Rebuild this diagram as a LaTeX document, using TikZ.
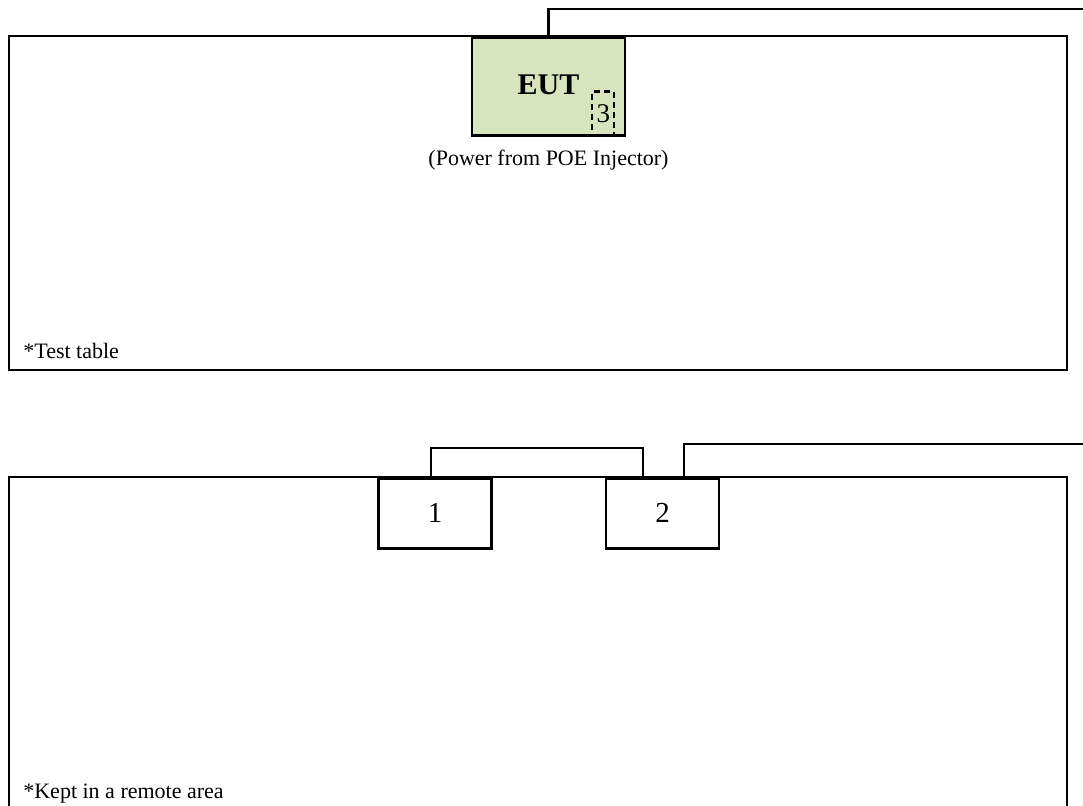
\documentclass[tikz,border=0pt]{standalone}
\usepackage{fontspec}
\setmainfont{Liberation Serif}
\usetikzlibrary{positioning}

\begin{document}
\begin{tikzpicture}[x=1pt, y=-1pt, line width=2.7pt, line join=miter,
  table/.style={draw, line width=2.7pt},
  unit/.style={draw, line width=2.7pt, minimum width=113pt, minimum height=70pt, inner sep=0pt, font=\fontsize{29}{31}\selectfont},
  port/.style={draw, dashed, dash pattern=on 6pt off 4pt, line width=2.2pt, minimum width=22pt, minimum height=44pt, inner sep=0pt, font=\fontsize{27}{29}\selectfont},
  cable/.style={line width=2.7pt},
  note/.style={font=\fontsize{22}{24}\selectfont, inner sep=0pt}]

\useasboundingbox (0,0) rectangle (1083,805); \clip (0,0) rectangle (1083,805);

% test table
\draw[table] (9,36) rectangle (1067,370);
\node[draw, line width=2.7pt, fill={rgb,255:red,215;green,228;blue,189}, minimum width=153pt, minimum height=98pt, inner sep=0pt, anchor=north, font=\bfseries\fontsize{30}{32}\selectfont] (eut) at (548.5,36) {\raisebox{4pt}{EUT}};
\node[port, anchor=south east] (p3) at ([xshift=-11pt]eut.south east) {3};
\node[note, below=12pt of eut] (pwr) {(Power from POE Injector)};
\node[note, anchor=base west] (tt) at (22,358) {*Test table};
\coordinate (eutout) at (1083,9);
\draw[cable] (eut.north) |- (eutout);

% remote area
\draw[table] (9,477) rectangle (1067,820);
\node[unit, anchor=north] (d1) at (435,477) {1};
\node[unit, anchor=north] (d2) at (662.5,477) {2};
\node[note, anchor=base west] (ra) at (22,798) {*Kept in a remote area};
\coordinate (d2out) at (1083,444);
\draw[cable] ([xshift=-4pt]d1.north) -- ++(0,-29) -| ([xshift=-19.5pt]d2.north);
\draw[cable] ([xshift=21.5pt]d2.north) |- (d2out);
\end{tikzpicture}
\end{document}
